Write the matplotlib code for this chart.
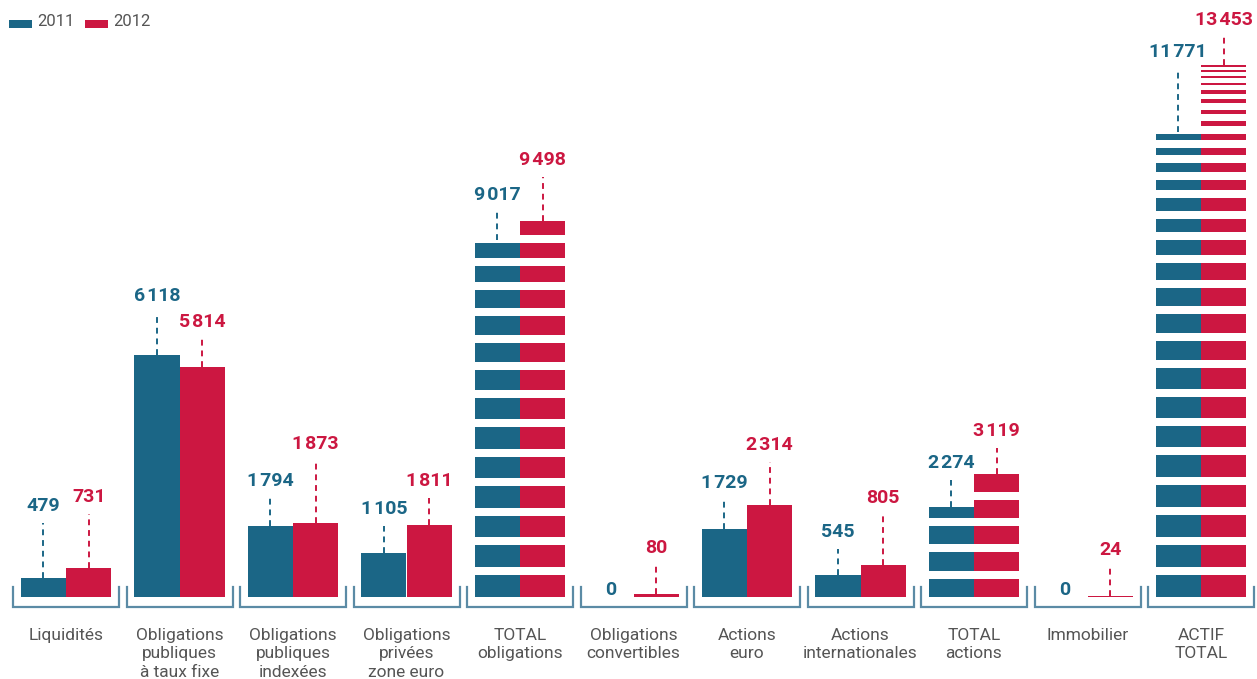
import matplotlib
matplotlib.use("Agg")
import matplotlib.pyplot as plt
from matplotlib.patches import Rectangle

# data (portfolio in M EUR)
categories = ["Liquidités", "Obligations\npubliques\nà taux fixe", "Obligations\npubliques\nindexées",
              "Obligations\nprivées\nzone euro", "TOTAL\nobligations", "Obligations\nconvertibles",
              "Actions\neuro", "Actions\ninternationales", "TOTAL\nactions", "Immobilier", "ACTIF\nTOTAL"]
values_2011 = [479, 6118, 1794, 1105, 9017, 0, 1729, 545, 2274, 0, 11771]
values_2012 = [731, 5814, 1873, 1811, 9498, 80, 2314, 805, 3119, 24, 13453]
striped = [False, False, False, False, True, False, False, False, True, False, True]

# how far (px) each value label sits above its bar
lift_2011 = [72, 59, 45, 44, 45, 0, 46, 43, 44, 0, 80]
lift_2012 = [71, 45, 79, 44, 61, 46, 60, 67, 43, 46, 45]

BLUE = "#1b6686"
RED = "#cc1741"
GREY = "#555555"
BRACKET = "#5b8ba5"

W, H = 1257, 679
fig = plt.figure(figsize=(W / 100, H / 100), dpi=100)
ax = fig.add_axes([0, 0, 1, 1])
ax.axis("off")

# pixel layout: baseline at y=597, 13453 at y=65, groups 113.5 px apart starting at x=66
upp = 13453 / (597 - 65)
ax.set_ylim(-(H - 597) * upp, 597 * upp)
ax.set_xlim(-66 / 113.5, (W - 66) / 113.5)


def px(n):
    return n * upp


def fmt(v):
    return f"{v:,}".replace(",", "\u200a")


def stripe_gaps(top):
    # white gaps in data units; pitch shrinks with height and the top stripe ends on the bar top
    top_px = top / upp
    pitches, gaps = [], []
    h = 0.0
    while h < top_px + 40:
        p = max(3.5, 30 * (1 - (h / 560) ** 3))
        pitches.append(p)
        gaps.append(min(8, 0.62 * p))
        h += p
    target = 1.0 if top_px > 200 else 0.9
    best = None
    for n in range(1, len(pitches) + 1):
        s = (top_px + gaps[n - 1]) / sum(pitches[:n])
        if best is None or abs(s - target) < abs(best[1] - target):
            best = (n, s)
    n, s = best
    out = []
    h = 0.0
    for k in range(n):
        p = pitches[k] * s
        out.append(((h + p - gaps[k]) * upp, (h + p) * upp))
        h += p
    return out


bw = 0.4
num_font = ["Roboto", "DejaVu Sans"]
xs = list(range(len(categories)))

for i in xs:
    v1, v2 = values_2011[i], values_2012[i]
    ax.bar(i - bw / 2, v1, bw, color=BLUE, linewidth=0)
    ax.bar(i + bw / 2, v2, bw, color=RED, linewidth=0)
    if striped[i]:
        top = max(v1, v2)
        for lo, hi in stripe_gaps(top):
            if lo >= top:
                break
            ax.bar(i, min(hi, top) - lo, 2 * bw + 0.01, bottom=lo, color="white", linewidth=0)

    # bracket under the group
    hw = 53 / 113.5
    ax.plot([i - hw, i - hw, i + hw, i + hw], [px(10), px(-10), px(-10), px(10)],
            color=BRACKET, lw=1.6, solid_joinstyle="miter", clip_on=False)

    # value labels
    for v, lift, x, col in [(v1, lift_2011[i], i - bw / 2, BLUE), (v2, lift_2012[i], i + bw / 2, RED)]:
        if v == 0:
            ax.text(x, px(7), "0", color=col, fontsize=14, fontweight="bold",
                    family=num_font, ha="center", va="center")
            continue
        ylab = v + px(lift)
        ax.plot([x, x], [v, ylab - px(17)], color=col, lw=1.4, dashes=(3, 2.5))
        ax.text(x, ylab, fmt(v), color=col, fontsize=14, fontweight="bold",
                family=num_font, ha="center", va="center")

    ax.text(i, px(-31), categories[i], color=GREY, fontsize=12.5, family=["Roboto", "DejaVu Sans"],
            ha="center", va="top", linespacing=1.28)

# legend in the top-left corner
for x0, col, lab in [(9, BLUE, "2011"), (85, RED, "2012")]:
    fig.add_artist(Rectangle((x0 / W, 1 - 28 / H), 23 / W, 8 / H, transform=fig.transFigure,
                             color=col, linewidth=0))
    fig.text((x0 + 28) / W, 1 - 22 / H, lab, color=GREY, fontsize=12,
             family=["Roboto", "DejaVu Sans"], ha="left", va="center")

fig.savefig("out.png", dpi=100)
